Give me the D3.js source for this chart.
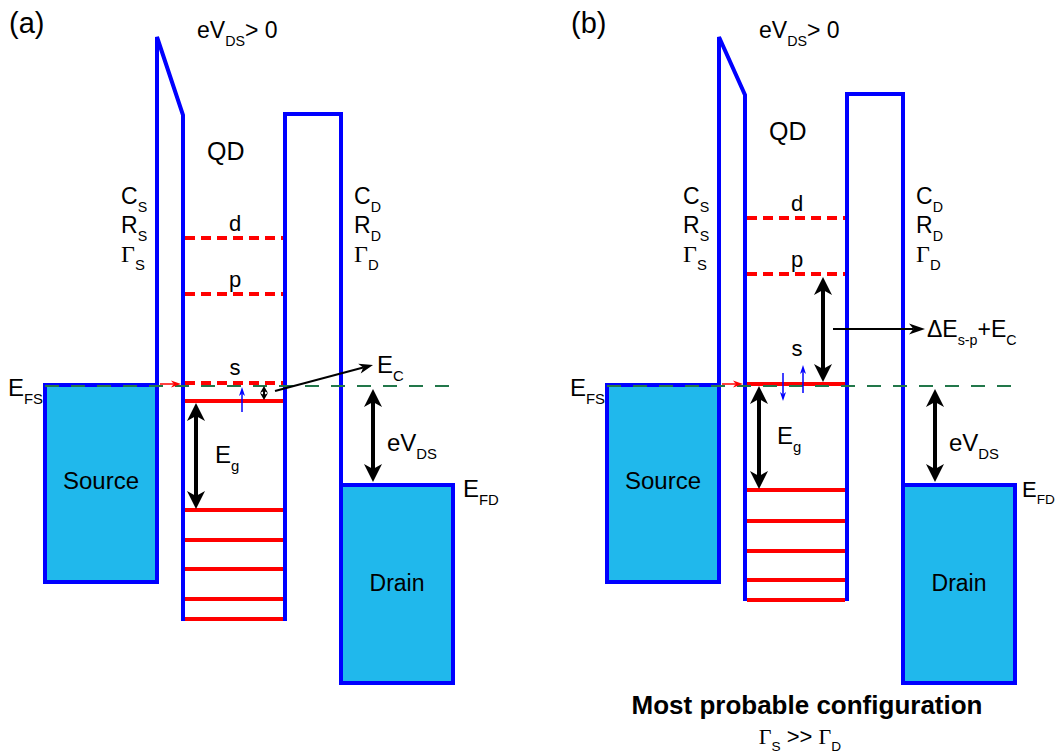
<!DOCTYPE html>
<html>
<head>
<meta charset="utf-8">
<script src="https://cdn.jsdelivr.net/npm/d3@7"></script>
<style>
  body { margin: 0; background: #fff; }
  svg { display: block; }
  text { font-family: "Liberation Sans", Arial, sans-serif; fill: #000; }
</style>
</head>
<body>
<div id="chart"></div>
<script>
// energy values (diagram units, larger = lower energy), one entry per panel
var panels = ["(a)", "(b)"];
var barrierPeak = [37, 37];
var barrierFoot = [115, 95];
var rightBarrierTop = [114, 94];
var dotBottom = [620, 600];
var fermiSource = [385, 385];
var fermiDrain = [485, 485];
var sourceBottom = [582, 582];
var drainBottom = [683, 683];
var emptyLevels = [[238, 294, 383], [218, 274]];
var emptyNames = [["d", "p", "s"], ["d", "p"]];
var filledLevels = [[401, 510, 540, 569, 599, 619], [384, 490, 521, 551, 580, 600]];

var W = 1057, H = 753;
var blue = "#0000ff", red = "#ff0000", cyan = "#20b8ec", green = "#22774a";

var svg = d3.select("#chart").append("svg")
    .attr("width", W)
    .attr("height", H);

// energy axis (shared) and one x scale per panel
var y = d3.scaleLinear().domain([0, H]).range([0, H]);
var xScales = panels.map(function(p, i) {
  return d3.scaleLinear().domain([0, 500]).range([i * 562, i * 562 + 500]);
});

// panel-local layout of the device
var lx = {lead: 45, bIn: 157, dotL: 183, dotR: 285, bOut: 341, drainR: 453};

function arrowHead(g, px, py, ux, uy, len, wid, color) {
  var nx = -uy, ny = ux;
  var bx = px - ux * len, by = py - uy * len;
  var mx = px - ux * len * 0.72, my = py - uy * len * 0.72;
  g.append("path")
    .attr("d", "M" + px + "," + py +
      "L" + (bx + nx * wid / 2) + "," + (by + ny * wid / 2) +
      "L" + mx + "," + my +
      "L" + (bx - nx * wid / 2) + "," + (by - ny * wid / 2) + "Z")
    .attr("fill", color);
}

function arrow(g, x1, y1, x2, y2, o) {
  var dx = x2 - x1, dy = y2 - y1, L = Math.hypot(dx, dy);
  var ux = dx / L, uy = dy / L;
  var cut = o.len * 0.72;
  var sx = o.double ? x1 + ux * cut : x1, sy = o.double ? y1 + uy * cut : y1;
  g.append("line")
    .attr("x1", sx).attr("y1", sy)
    .attr("x2", x2 - ux * cut).attr("y2", y2 - uy * cut)
    .attr("stroke", o.color).attr("stroke-width", o.width);
  arrowHead(g, x2, y2, ux, uy, o.len, o.wid, o.color);
  if (o.double) arrowHead(g, x1, y1, -ux, -uy, o.len, o.wid, o.color);
}

// text with subscripts: parts = [[str, isSub, isSerif], ...]
function rich(g, x, yy, parts, size, anchor, weight) {
  var t = g.append("text")
    .attr("x", x).attr("y", yy)
    .attr("font-size", size)
    .attr("text-anchor", anchor || "start")
    .attr("font-weight", weight || "normal");
  var down = false;
  parts.forEach(function(p) {
    var s = t.append("tspan").text(p[0]);
    if (p[1] && !down) { s.attr("dy", size * 0.34).attr("font-size", size * 0.62); down = true; }
    else if (p[1]) { s.attr("font-size", size * 0.62); }
    else if (down) { s.attr("dy", -size * 0.34); down = false; }
    if (p[2]) s.attr("font-family", "'Liberation Serif', 'DejaVu Serif', serif");
  });
  return t;
}

var big = {color: "#000", width: 4, len: 18, wid: 18, double: true};

panels.forEach(function(name, i) {
  var x = xScales[i];
  var g = svg.append("g");

  // source and drain
  g.append("rect")
    .attr("x", x(lx.lead)).attr("y", y(fermiSource[i]))
    .attr("width", x(lx.bIn) - x(lx.lead)).attr("height", y(sourceBottom[i]) - y(fermiSource[i]))
    .attr("fill", cyan).attr("stroke", blue).attr("stroke-width", 4);
  g.append("rect")
    .attr("x", x(lx.bOut)).attr("y", y(fermiDrain[i]))
    .attr("width", x(lx.drainR) - x(lx.bOut)).attr("height", y(drainBottom[i]) - y(fermiDrain[i]))
    .attr("fill", cyan).attr("stroke", blue).attr("stroke-width", 4);

  // barriers
  var line = d3.line();
  g.append("path")
    .attr("d", line([[x(lx.bIn), y(sourceBottom[i])], [x(lx.bIn), y(barrierPeak[i])],
                     [x(lx.dotL), y(barrierFoot[i])], [x(lx.dotL), y(dotBottom[i]) + 1]]))
    .attr("fill", "none").attr("stroke", blue).attr("stroke-width", 4);
  g.append("path")
    .attr("d", line([[x(lx.dotR), y(dotBottom[i]) + 1], [x(lx.dotR), y(rightBarrierTop[i])],
                     [x(lx.bOut), y(rightBarrierTop[i])], [x(lx.bOut), y(fermiDrain[i])]]))
    .attr("fill", "none").attr("stroke", blue).attr("stroke-width", 4);

  // dot levels
  g.selectAll(".empty").data(emptyLevels[i]).enter().append("line")
    .attr("x1", x(lx.dotL + 2)).attr("x2", x(lx.dotR - 2))
    .attr("y1", function(d) { return y(d); }).attr("y2", function(d) { return y(d); })
    .attr("stroke", red).attr("stroke-width", 4).attr("stroke-dasharray", "10,6");
  g.selectAll(".filled").data(filledLevels[i]).enter().append("line")
    .attr("x1", x(lx.dotL + 2)).attr("x2", x(lx.dotR - 2))
    .attr("y1", function(d) { return y(d); }).attr("y2", function(d) { return y(d); })
    .attr("stroke", red).attr("stroke-width", 4);

  // level names
  emptyLevels[i].forEach(function(e, k) {
    var n = emptyNames[i][k];
    if (n == "s") return;
    g.append("text").attr("x", x(235)).attr("y", y(e) - 7)
      .attr("font-size", 22).attr("text-anchor", "middle").text(n);
  });
  var sY = i == 0 ? emptyLevels[0][2] - 8 : filledLevels[1][0] - 28;
  g.append("text").attr("x", x(235)).attr("y", y(sY))
    .attr("font-size", 22).attr("text-anchor", "middle").text("s");

  // source Fermi level
  g.append("line")
    .attr("x1", x(lx.lead)).attr("x2", x(lx.drainR))
    .attr("y1", y(fermiSource[i]) + 1).attr("y2", y(fermiSource[i]) + 1)
    .attr("stroke", green).attr("stroke-width", 2).attr("stroke-dasharray", "14,12");

  // tunnelling arrow from the source
  arrow(g, x(160), y(fermiSource[i] - 1), x(181), y(fermiSource[i] - 1),
    {color: red, width: 1.5, len: 10, wid: 7});

  // Eg and eVDS
  var top = filledLevels[i][0], vb = filledLevels[i][1];
  var egX = i == 0 ? 196 : 197;
  arrow(g, x(egX), y(top + 2), x(egX), y(vb - 1), big);
  rich(g, x(215), y((top + vb) / 2 + 7), [["E"], ["g", true]], 24);
  arrow(g, x(373), y(fermiSource[i] + 4), x(373), y(fermiDrain[i] - 3), big);
  rich(g, x(387), y((fermiSource[i] + fermiDrain[i]) / 2 + 16), [["eV"], ["DS", true]], 24);

  if (i == 0) {
    arrow(g, x(242), y(412), x(242), y(387), {color: blue, width: 1.5, len: 9, wid: 6});
    arrow(g, x(264), y(fermiSource[0] + 1), x(264), y(filledLevels[0][0] - 1),
      {color: "#000", width: 2, len: 7, wid: 8, double: true});
    arrow(g, x(275), y(391), x(373), y(365), {color: "#000", width: 2, len: 14, wid: 10});
    rich(g, x(377), y(373), [["E"], ["C", true]], 24);
  } else {
    arrow(g, x(221), y(373), x(221), y(401), {color: blue, width: 1.5, len: 9, wid: 6});
    arrow(g, x(241), y(393), x(241), y(365), {color: blue, width: 1.5, len: 9, wid: 6});
    arrow(g, x(261), y(emptyLevels[1][1] + 3), x(261), y(filledLevels[1][0] - 2), big);
    arrow(g, x(271), y(329), x(363), y(329), {color: "#000", width: 2, len: 16, wid: 11});
    rich(g, x(365), y(337), [["\u0394E"], ["s-p", true], ["+E"], ["C", true]], 23);
  }

  // labels
  g.append("text").attr("x", x(9)).attr("y", 33).attr("font-size", 29).text(name);
  rich(g, x(197), y(38), [["eV"], ["DS", true], ["> 0"]], 23);
  g.append("text").attr("x", x(207)).attr("y", y(barrierFoot[i] + 45)).attr("font-size", 25).text("QD");
  rich(g, x(121), y(204), [["C"], ["S", true]], 23);
  rich(g, x(121), y(233), [["R"], ["S", true]], 23);
  rich(g, x(121), y(262), [["\u0393", false, true], ["S", true]], 24);
  rich(g, x(354), y(204), [["C"], ["D", true]], 23);
  rich(g, x(354), y(233), [["R"], ["D", true]], 23);
  rich(g, x(354), y(262), [["\u0393", false, true], ["D", true]], 24);
  rich(g, x(8), y(fermiSource[i] + 11), [["E"], ["FS", true]], 24);
  rich(g, x(i == 0 ? 463 : 460), y(fermiDrain[i] + 12), [["E"], ["FD", true]], i == 0 ? 24 : 22);
  g.append("text").attr("x", x(101)).attr("y", y(489)).attr("font-size", 24)
    .attr("text-anchor", "middle").text("Source");
  g.append("text").attr("x", x(397)).attr("y", y(591)).attr("font-size", 23)
    .attr("text-anchor", "middle").text("Drain");
});

// caption under panel (b)
svg.append("text").attr("x", 807).attr("y", 714).attr("font-size", 26)
  .attr("font-weight", "bold").attr("text-anchor", "middle").text("Most probable configuration");
rich(svg, 800, 744, [["\u0393", false, true], ["S", true], [" >> "], ["\u0393", false, true], ["D", true]], 22, "middle");
</script>
</body>
</html>
